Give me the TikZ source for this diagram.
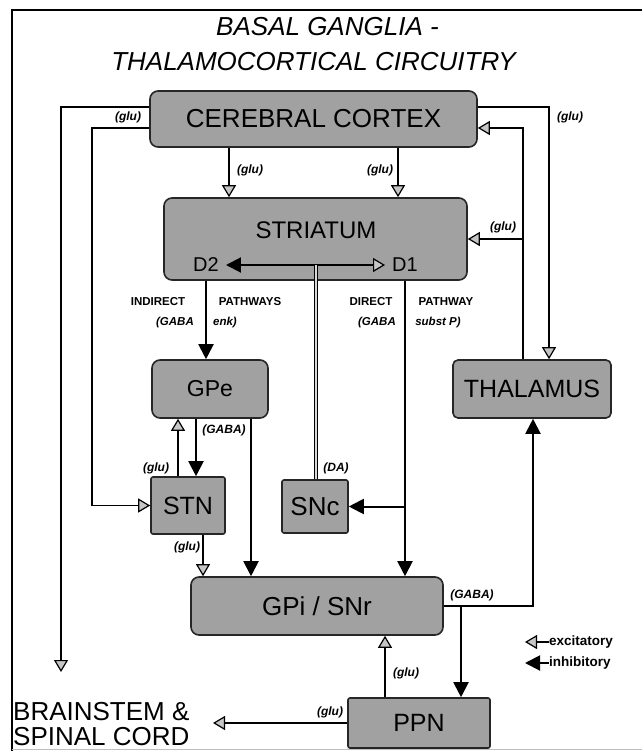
\documentclass[tikz,border=0pt]{standalone}
\usepackage{fontspec}
\setmainfont{Liberation Sans}
\usetikzlibrary{arrows.meta,calc}
\begin{document}
\begin{tikzpicture}[x=1pt,y=-1pt,
 box/.style={draw=black!85, line width=1.6pt, fill=gray!74, rounded corners=8pt, inner sep=0pt, align=center},
 sbox/.style={box, rounded corners=2pt},
 exc/.style={line width=1.2pt, -{Triangle[width=14pt,length=12pt,fill=gray!45,line width=1.2pt]}},
 inh/.style={line width=2pt, -{Triangle[width=15pt,length=15pt]}},
 lab/.style={font=\fontsize{12}{13}\selectfont\itshape\bfseries, inner sep=1pt},
 pathlab/.style={font=\fontsize{11.5}{12}\selectfont\bfseries, inner sep=1pt},
 plab/.style={font=\fontsize{11.5}{12}\selectfont\itshape\bfseries, inner sep=1pt},
]
\useasboundingbox (0,0) rectangle (642,751);
\fill[white] (0,0) rectangle (642,751);
% frame
\draw[line width=1.4pt] (12,751) -- (12,10) -- (642,10);
\draw[gray!50, line width=0.8pt] (12,749) -- (642,749);

% title
\node[font=\fontsize{26}{30}\selectfont\itshape] (title1) at (327.5,27) {BASAL GANGLIA -};
\node[font=\fontsize{26}{30}\selectfont\itshape] (title2) at (313.5,62) {THALAMOCORTICAL CIRCUITRY};

% boxes
\node[box, minimum width=327pt, minimum height=56pt, font=\fontsize{26}{28}\selectfont] (cortex) at (313.5,119) {CEREBRAL CORTEX};
\node[box, minimum width=303pt, minimum height=82pt] (striatum) at (315.5,239) {};
\node[font=\fontsize{24}{26}\selectfont, inner sep=0pt] (striatumlabel) at (316,230) {STRIATUM};
\node[font=\fontsize{20}{20}\selectfont, inner ysep=1pt, inner xsep=7pt] (D2) at (206,265) {D2};
\node[font=\fontsize{20}{20}\selectfont, inner ysep=1pt, inner xsep=7pt] (D1) at (405,265) {D1};
\node[box, minimum width=116pt, minimum height=58pt, font=\fontsize{23}{24}\selectfont] (GPe) at (210,389) {GPe};
\node[box, rounded corners=5pt, minimum width=158pt, minimum height=58pt, font=\fontsize{25}{26}\selectfont] (thal) at (532,389) {THALAMUS};
\node[sbox, minimum width=74pt, minimum height=57pt, font=\fontsize{25}{26}\selectfont] (STN) at (188,505.5) {STN};
\node[sbox, minimum width=66pt, minimum height=53pt, font=\fontsize{26}{27}\selectfont] (SNc) at (315,506.5) {SNc};
\node[box, minimum width=252pt, minimum height=58pt, font=\fontsize{26}{27}\selectfont] (GPi) at (317,606) {GPi / SNr};
\node[sbox, minimum width=142pt, minimum height=50pt, font=\fontsize{25}{26}\selectfont] (PPN) at (419,723) {PPN};
\node[anchor=west, align=left, inner sep=0pt, font=\fontsize{26}{25}\selectfont] (brainstem) at (13,724.5) {BRAINSTEM \&\\SPINAL CORD};

% helper coordinates
\coordinate (r107) at (0,107);
\coordinate (r128) at (0,128);
\coordinate (c92) at (92,0);
\coordinate (c229) at (229,0);
\coordinate (c398) at (398,0);
\coordinate (c523) at (523,0);
\coordinate (c549) at (549,0);
\coordinate (c178) at (178,0);
\coordinate (c196) at (196,0);
\coordinate (c251) at (251,0);
\coordinate (c203) at (203,0);
\coordinate (c533) at (533,0);
\coordinate (c461) at (461,0);
\coordinate (c385) at (385,0);
\coordinate (jx) at (316,265);
\coordinate (bsTip) at (61,672);
\coordinate (bsArrow) at (213,723);

% connectors
\draw[exc] (cortex.west |- r107) -| (bsTip);
\draw[exc] (cortex.west |- r128) -| (c92 |- STN.west) -- (STN.west);
\draw[exc] (cortex.east |- r107) -| (c549 |- thal.north);
\draw[exc] (c523 |- thal.north) |- (cortex.east |- r128);
\draw[exc] (c523 |- striatum.east) -- (striatum.east);
\draw[exc] (c229 |- cortex.south) -- (c229 |- striatum.north);
\draw[exc] (c398 |- cortex.south) -- (c398 |- striatum.north);
\draw[inh] (jx) -- (D2.east);
\draw[exc] (jx) -- (D1.west);
\draw[line width=1.4pt, double=gray!30, double distance=1.2pt] (jx |- SNc.north) -- (jx);
\draw[inh] (D2 |- striatum.south) -- (D2 |- GPe.north);
\draw[inh] (D1 |- striatum.south) -- (D1 |- GPi.north);
\draw[inh] (D1 |- SNc.east) -- (SNc.east);
\draw[exc] (c178 |- STN.north) -- (c178 |- GPe.south);
\draw[inh] (c196 |- GPe.south) -- (c196 |- STN.north);
\draw[inh] (c251 |- GPe.south) -- (c251 |- GPi.north);
\draw[exc] (c203 |- STN.south) -- (c203 |- GPi.north);
\draw[inh] (GPi.east) -| (c533 |- thal.south);
\draw[inh] (c461 |- GPi.east) -- (c461 |- PPN.north);
\draw[exc] (c385 |- PPN.north) -- (c385 |- GPi.south);
\draw[exc] (PPN.west) -- (bsArrow);

% labels
\node[lab] (l1) at (128,117) {(glu)};
\node[lab] (l2) at (570,117) {(glu)};
\node[lab] (l3) at (250,170) {(glu)};
\node[lab] (l4) at (380,170) {(glu)};
\node[lab] (l5) at (503,227) {(glu)};
\node[pathlab] (p1) at (158,302) {INDIRECT};
\node[pathlab] (p2) at (250,302) {PATHWAYS};
\node[plab] (p3) at (175,323) {(GABA};
\node[plab] (p4) at (225,323) {enk)};
\node[pathlab] (p5) at (371,302) {DIRECT};
\node[pathlab] (p6) at (446,302) {PATHWAY};
\node[plab] (p7) at (377,323) {(GABA};
\node[plab] (p8) at (438,323) {subst P)};
\node[lab] (l6) at (224,430) {(GABA)};
\node[lab] (l7) at (156,468) {(glu)};
\node[lab] (l8) at (336,468) {(DA)};
\node[lab] (l9) at (187,547) {(glu)};
\node[lab] (l10) at (472,595) {(GABA)};
\node[lab] (l11) at (406,673) {(glu)};
\node[lab] (l12) at (330,712) {(glu)};

% legend
\coordinate (legExcTip) at (525,642);
\coordinate (legInhTip) at (525,663);
\node[anchor=west, inner sep=0pt, font=\fontsize{13.5}{14}\selectfont\bfseries] (legexc) at (549,642) {excitatory};
\node[anchor=west, inner sep=0pt, font=\fontsize{13.5}{14}\selectfont\bfseries] (leginh) at (549,663) {inhibitory};
\draw[exc] (legexc.west) -- (legExcTip);
\draw[inh] (leginh.west) -- (legInhTip);
\end{tikzpicture}
\end{document}
